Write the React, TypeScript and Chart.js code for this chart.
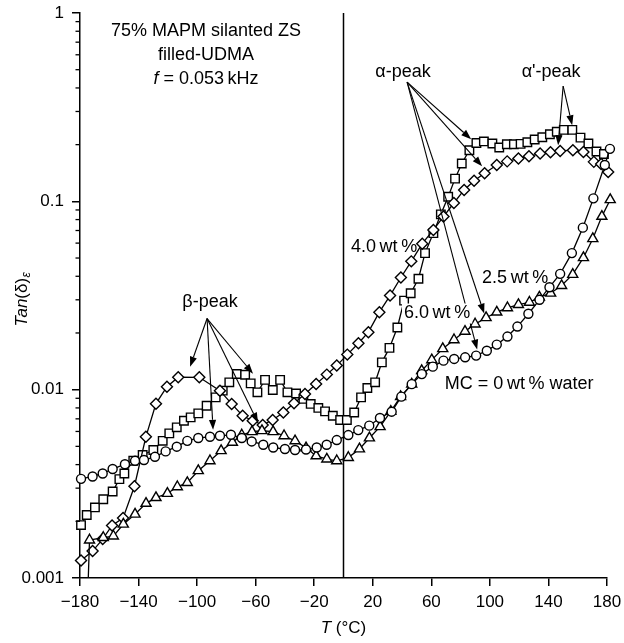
import React, { useEffect, useRef } from "react";
import { Chart, registerables } from "chart.js";

Chart.register(...registerables);

const FONT = '"Liberation Sans", Arial, Helvetica, sans-serif';

// ---- Series: MC = 0 wt% water (circles)
const T_MC0 = [-179.3, -171.4, -164.5, -157.7, -149.3, -142.4, -136.3, -128.8, -121.5, -113.9, -106.7, -99.2, -91.2, -84.4, -76.9, -69.5, -62.7, -54.8, -48, -40, -33.1, -25.6, -18.3, -11.5, -4.6, 3.3, 10.1, 17.6, 24.9, 32.9, 39.5, 46.6, 53.5, 61, 68.3, 75.6, 83.1, 90.6, 97.9, 104.7, 112, 118.8, 126.3, 133.9, 140.7, 148, 156, 163.5, 170.7, 178.5, 182];
const V_MC0 = [0.00336, 0.00346, 0.00359, 0.00379, 0.00402, 0.00419, 0.00423, 0.0044, 0.0047, 0.00498, 0.00535, 0.00554, 0.00562, 0.00569, 0.00576, 0.00554, 0.00531, 0.0051, 0.00493, 0.00484, 0.00478, 0.00481, 0.00493, 0.0051, 0.0054, 0.00574, 0.0061, 0.00644, 0.00707, 0.00764, 0.00918, 0.0107, 0.0121, 0.01325, 0.01426, 0.01456, 0.01485, 0.01517, 0.0161, 0.01735, 0.01914, 0.02163, 0.0253, 0.03, 0.035, 0.0412, 0.0531, 0.0725, 0.1037, 0.156, 0.19];

// ---- Series: 2.5 wt% (triangles)
const T_MC25 = [-176.5, -173.5, -164.1, -157.2, -150.4, -142.4, -134.9, -128.1, -120.3, -113.5, -106.7, -99.2, -91.2, -83.6, -75.9, -69.5, -62.5, -55.7, -48.1, -40.6, -33.1, -25.6, -18.7, -11.4, -4.6, 3.3, 10.9, 17.7, 25, 32.3, 39, 46.6, 53.4, 60.3, 67.8, 75.5, 83, 89.9, 97.4, 104.7, 112, 119.5, 127, 133.8, 141.5, 149, 156.6, 163.9, 170.3, 176.5, 182.2];
const V_MC25 = [0.0003, 0.00159, 0.00164, 0.00167, 0.00193, 0.00218, 0.00249, 0.00267, 0.00281, 0.00305, 0.00321, 0.00371, 0.00419, 0.00474, 0.00525, 0.00574, 0.00598, 0.00605, 0.00598, 0.00569, 0.00535, 0.00491, 0.00445, 0.00428, 0.00419, 0.00436, 0.00484, 0.00554, 0.00636, 0.00767, 0.00918, 0.0107, 0.0126, 0.0144, 0.0165, 0.0184, 0.0204, 0.0223, 0.0241, 0.0258, 0.0272, 0.0283, 0.0291, 0.031, 0.0325, 0.0357, 0.0409, 0.0502, 0.0633, 0.0832, 0.102];

// ---- Series: 4.0 wt% (diamonds)
const T_MC40 = [-179.3, -171.4, -164.5, -158.1, -150.6, -142.8, -135, -128.1, -120.6, -112.9, -98.5, -84.4, -76.4, -68.9, -62, -55.2, -48.4, -41.1, -33.8, -26.3, -18.7, -11.4, -4.6, 2.6, 10.2, 17, 24.5, 31.8, 39.2, 46.3, 53.8, 61.4, 68.3, 75.4, 82.4, 89.2, 96.4, 104.7, 111.8, 119.5, 126.7, 134.3, 141.4, 148, 156.7, 163.9, 171, 176, 180.8];
const V_MC40 = [0.00124, 0.00139, 0.00161, 0.0019, 0.00208, 0.00307, 0.00562, 0.00843, 0.01037, 0.01165, 0.01163, 0.00988, 0.0084, 0.00727, 0.00684, 0.0065, 0.0069, 0.00757, 0.00846, 0.00948, 0.01072, 0.01202, 0.01342, 0.01535, 0.01763, 0.0202, 0.0258, 0.0316, 0.0394, 0.048, 0.0596, 0.0705, 0.083, 0.098, 0.115, 0.1285, 0.141, 0.156, 0.163, 0.1687, 0.1735, 0.1794, 0.182, 0.1852, 0.1868, 0.1829, 0.162, 0.158, 0.143];

// ---- Series: 6.0 wt% (squares)
const T_MC60 = [-179.3, -175.4, -169.8, -164.1, -157.7, -153.1, -149.7, -143.6, -137.2, -129.9, -123.5, -119, -113.9, -109, -104.4, -99.2, -93.5, -87.3, -82.5, -78, -72.9, -67.2, -63.4, -58.8, -53.6, -48.3, -43.3, -38.3, -32.4, -27.4, -22.4, -17.2, -12.6, -7.3, -2.3, 2.3, 7.3, 12, 16.3, 21.6, 26.2, 31.4, 36.8, 41.4, 45.9, 51.2, 55.7, 61.4, 66.5, 71.5, 76.2, 80.8, 86, 90.8, 95.9, 101.7, 106.4, 111.6, 116.4, 121, 125.6, 130.6, 135.8, 141, 145.7, 150.5, 156.3, 161.9, 167.3, 172.8, 177.9];
const V_MC60 = [0.00191, 0.00216, 0.00237, 0.00262, 0.00288, 0.00335, 0.00359, 0.00419, 0.0045, 0.00478, 0.00535, 0.00586, 0.00631, 0.00684, 0.00713, 0.00748, 0.00822, 0.0091, 0.00988, 0.01094, 0.01212, 0.012, 0.0108, 0.00968, 0.01127, 0.00996, 0.01127, 0.00968, 0.00955, 0.00893, 0.0084, 0.008, 0.00767, 0.00727, 0.0069, 0.0069, 0.00757, 0.0091, 0.0102, 0.01094, 0.01396, 0.01667, 0.0214, 0.0297, 0.0325, 0.0388, 0.0531, 0.0678, 0.0853, 0.1057, 0.132, 0.1588, 0.1868, 0.204, 0.208, 0.2028, 0.193, 0.201, 0.201, 0.2018, 0.206, 0.213, 0.219, 0.227, 0.234, 0.2395, 0.2395, 0.218, 0.2028, 0.184, 0.1785];

// ---- Axes
const X_TICKS = [-180, -140, -100, -60, -20, 20, 60, 100, 140, 180];
const Y_TICKS = [0.001, 0.01, 0.1, 1];
const Y_TICK_LABELS = ["0.001", "0.01", "0.1", "1"];
const Y_MINOR_MULT = [2, 3, 4, 5, 6, 7, 8, 9];
const VLINE_T = 0;

// ---- Annotation texts (anchored in data coordinates)
const TITLE_LINES = ["75% MAPM silanted ZS", "filled-UDMA"];
const TITLE_T = -93.9;
const TITLE_V = [0.802, 0.598, 0.4457];
const LABELS = [
  { text: "\u03b1-peak", t: 40.7, v: 0.4856, bg: false },
  { text: "\u03b1'-peak", t: 141.85, v: 0.4856, bg: false },
  { text: "\u03b2-peak", t: -91.2, v: 0.02902, bg: false },
  { text: "4.0\u2009wt\u2009%", t: 27.7, v: 0.0569, bg: false },
  { text: "2.5\u2009wt\u2009%", t: 117.25, v: 0.039, bg: false },
  { text: "MC = 0\u2009wt\u2009% water", t: 120, v: 0.01076, bg: false },
  { text: "6.0\u2009wt\u2009%", t: 63.95, v: 0.02537, bg: true },
];
const ARROWS = [
  // alpha-peak
  { from: [43.45, 0.4295], to: [87.2, 0.2138] },
  { from: [43.45, 0.4295], to: [94.7, 0.1535] },
  { from: [43.45, 0.4295], to: [96.1, 0.02537] },
  { from: [43.45, 0.4295], to: [91.3, 0.01632] },
  // alpha'-peak
  { from: [150.05, 0.409], to: [146.6, 0.1985] },
  { from: [150.05, 0.409], to: [156.2, 0.2536] },
  // beta-peak
  { from: [-93.2, 0.02386], to: [-104.8, 0.01325] },
  { from: [-93.2, 0.02386], to: [-61.8, 0.01216] },
  { from: [-93.2, 0.02386], to: [-89.1, 0.00612] },
  { from: [-93.2, 0.02386], to: [-58.4, 0.00668] },
];

const mk = (ts: number[], vs: number[]) => ts.map((t, i) => ({ x: t, y: vs[i] }));

function drawArrow(ctx: CanvasRenderingContext2D, x1: number, y1: number, x2: number, y2: number) {
  const ang = Math.atan2(y2 - y1, x2 - x1);
  const L = 10, W = 3.6;
  const bx = x2 - L * Math.cos(ang), by = y2 - L * Math.sin(ang);
  ctx.beginPath();
  ctx.moveTo(x1, y1);
  ctx.lineTo(bx, by);
  ctx.stroke();
  ctx.beginPath();
  ctx.moveTo(x2, y2);
  ctx.lineTo(bx + W * Math.sin(ang), by - W * Math.cos(ang));
  ctx.lineTo(bx - W * Math.sin(ang), by + W * Math.cos(ang));
  ctx.closePath();
  ctx.fill();
}

const LABEL_PX = 18;

const annotPlugin = {
  id: "annot",
  beforeDatasetsDraw(chart: any) {
    const ctx = chart.ctx as CanvasRenderingContext2D;
    const xs = chart.scales.x, area = chart.chartArea;
    const x0 = xs.getPixelForValue(VLINE_T);
    ctx.save();
    ctx.strokeStyle = "#000";
    ctx.lineWidth = 1.5;
    ctx.beginPath();
    ctx.moveTo(x0, area.top);
    ctx.lineTo(x0, area.bottom);
    ctx.stroke();
    ctx.restore();
  },
  afterDraw(chart: any) {
    const ctx = chart.ctx as CanvasRenderingContext2D;
    const xs = chart.scales.x, ys = chart.scales.y, area = chart.chartArea;
    const P = (t: number, v: number) => [xs.getPixelForValue(t), ys.getPixelForValue(v)];
    ctx.save();
    ctx.strokeStyle = "#000";
    ctx.fillStyle = "#000";
    // minor y ticks
    ctx.lineWidth = 1.3;
    for (let i = 0; i < Y_TICKS.length - 1; i++) {
      for (const m of Y_MINOR_MULT) {
        const y = ys.getPixelForValue(Y_TICKS[i] * m);
        ctx.beginPath();
        ctx.moveTo(area.left - 4.5, y);
        ctx.lineTo(area.left, y);
        ctx.stroke();
      }
    }
    // arrows
    ctx.lineWidth = 1.1;
    for (const a of ARROWS) {
      const [x1, y1] = P(a.from[0], a.from[1]);
      const [x2, y2] = P(a.to[0], a.to[1]);
      drawArrow(ctx, x1, y1, x2, y2);
    }
    // labels
    ctx.font = `${LABEL_PX}px ${FONT}`;
    ctx.textAlign = "center";
    ctx.textBaseline = "middle";
    for (const l of LABELS) {
      const [x, y] = P(l.t, l.v);
      if (l.bg) {
        const w = ctx.measureText(l.text).width;
        ctx.fillStyle = "#fff";
        ctx.fillRect(x - w / 2 - 2, y - 10, w + 4, 20);
        ctx.fillStyle = "#000";
      }
      ctx.fillText(l.text, x, y);
    }
    // title block
    for (let i = 0; i < TITLE_LINES.length; i++) {
      const [x, y] = P(TITLE_T, TITLE_V[i]);
      ctx.fillText(TITLE_LINES[i], x, y);
    }
    {
      const [x, y] = P(TITLE_T, TITLE_V[2]);
      ctx.font = `italic ${LABEL_PX}px ${FONT}`;
      const wf = ctx.measureText("f").width;
      ctx.font = `${LABEL_PX}px ${FONT}`;
      const rest = " = 0.053\u2009kHz";
      const wr = ctx.measureText(rest).width;
      const x0 = x - (wf + wr) / 2;
      ctx.textAlign = "left";
      ctx.font = `italic ${LABEL_PX}px ${FONT}`;
      ctx.fillText("f", x0, y);
      ctx.font = `${LABEL_PX}px ${FONT}`;
      ctx.fillText(rest, x0 + wf, y);
    }
    // x title
    {
      const cx = (area.left + area.right) / 2;
      const y = area.bottom + 50;
      ctx.font = `italic 17px ${FONT}`;
      const w1 = ctx.measureText("T").width;
      ctx.font = `17px ${FONT}`;
      const rest = " (\u00b0C)";
      const w2 = ctx.measureText(rest).width;
      const x0 = cx - (w1 + w2) / 2;
      ctx.textAlign = "left";
      ctx.font = `italic 17px ${FONT}`;
      ctx.fillText("T", x0, y);
      ctx.font = `17px ${FONT}`;
      ctx.fillText(rest, x0 + w1, y);
    }
    // y title (rotated)
    {
      const cx = area.left - 58;
      const cy = (area.top + area.bottom) / 2 + 4;
      ctx.translate(cx, cy);
      ctx.rotate(-Math.PI / 2);
      ctx.font = `italic 17px ${FONT}`;
      const w1 = ctx.measureText("Tan").width;
      ctx.font = `17px ${FONT}`;
      const w2 = ctx.measureText("(\u03b4)").width;
      ctx.font = `italic 12px ${FONT}`;
      const w3 = ctx.measureText("\u03b5").width;
      const x0 = -(w1 + w2 + w3) / 2;
      ctx.textAlign = "left";
      ctx.font = `italic 17px ${FONT}`;
      ctx.fillText("Tan", x0, 0);
      ctx.font = `17px ${FONT}`;
      ctx.fillText("(\u03b4)", x0 + w1, 0);
      ctx.font = `italic 12px ${FONT}`;
      ctx.fillText("\u03b5", x0 + w1 + w2 + 0.5, 5);
    }
    ctx.restore();
  },
};

export default function App() {
  const ref = useRef<HTMLCanvasElement>(null);
  useEffect(() => {
    const canvas = ref.current;
    if (!canvas) return;
    const common = {
      showLine: true,
      borderColor: "#000",
      borderWidth: 1.3,
      tension: 0,
      pointBackgroundColor: "#fff",
      pointBorderColor: "#000",
      pointBorderWidth: 1.4,
      clip: { left: 10, right: 10, top: 10, bottom: 0 },
    };
    const chart = new Chart(canvas, {
      type: "scatter",
      data: {
        datasets: [
          { ...common, label: "MC = 0 wt% water", data: mk(T_MC0, V_MC0), pointStyle: "circle", pointRadius: 4.5 },
          { ...common, label: "2.5 wt%", data: mk(T_MC25, V_MC25), pointStyle: "triangle", pointRadius: 5.8 },
          { ...common, label: "4.0 wt%", data: mk(T_MC40, V_MC40), pointStyle: "rectRot", pointRadius: 5.5 },
          { ...common, label: "6.0 wt%", data: mk(T_MC60, V_MC60), pointStyle: "rect", pointRadius: 6 },
        ] as any,
      },
      options: {
        responsive: false,
        animation: false,
        devicePixelRatio: 1,
        layout: { padding: { left: 0, right: 17, top: 13, bottom: 0 } },
        plugins: { legend: { display: false }, tooltip: { enabled: false } },
        scales: {
          x: {
            type: "linear",
            min: -180,
            max: 180,
            afterBuildTicks: (s: any) => {
              s.ticks = X_TICKS.map((v) => ({ value: v }));
            },
            afterFit: (s: any) => {
              s.height = 65;
              s.paddingLeft = 0;
              s.paddingRight = 0;
            },
            ticks: {
              autoSkip: false,
              maxRotation: 0,
              padding: 6,
              color: "#000",
              font: { family: FONT, size: 17 },
              callback: (v: any) => (v < 0 ? "\u2212" + Math.abs(v) : String(v)),
            },
            grid: { display: true, drawOnChartArea: false, drawTicks: true, tickLength: 8, color: "#000", lineWidth: 1.5 },
            border: { display: true, color: "#000", width: 1.5 },
          },
          y: {
            type: "logarithmic",
            min: 0.001,
            max: 1,
            afterBuildTicks: (s: any) => {
              s.ticks = Y_TICKS.map((v) => ({ value: v }));
            },
            afterFit: (s: any) => {
              s.width = 80;
              s.paddingTop = 0;
              s.paddingBottom = 0;
            },
            ticks: {
              autoSkip: false,
              padding: 8,
              color: "#000",
              font: { family: FONT, size: 17 },
              callback: (v: any) => {
                const i = Y_TICKS.indexOf(v);
                return i >= 0 ? Y_TICK_LABELS[i] : "";
              },
            },
            grid: { display: true, drawOnChartArea: false, drawTicks: true, tickLength: 8, color: "#000", lineWidth: 1.5 },
            border: { display: true, color: "#000", width: 1.5 },
          },
        },
      } as any,
      plugins: [annotPlugin],
    });
    return () => chart.destroy();
  }, []);
  return (
    <div style={{ position: "absolute", left: 0, top: 0, width: 624, height: 643, background: "#fff" }}>
      <canvas ref={ref} width={624} height={643} style={{ width: 624, height: 643, display: "block" }} />
    </div>
  );
}
